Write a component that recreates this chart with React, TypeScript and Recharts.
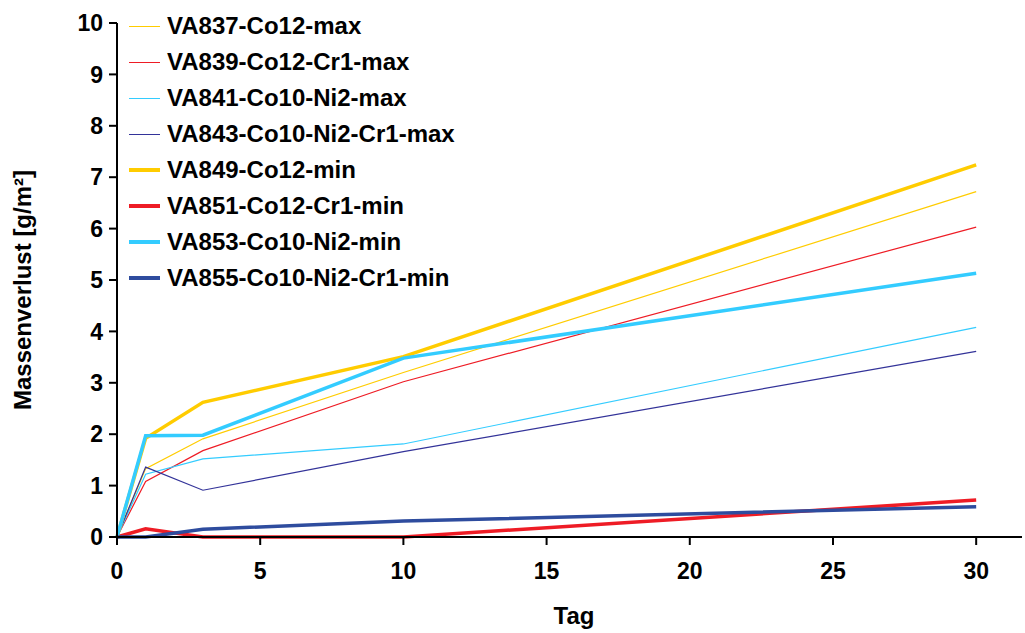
import React from "react";
import { LineChart, Line, XAxis, YAxis } from "recharts";

const days = [0, 1, 3, 10, 30];

const va837 = [0, 1.33, 1.91, 3.2, 6.72];
const va839 = [0, 1.08, 1.68, 3.02, 6.03];
const va841 = [0, 1.22, 1.52, 1.81, 4.08];
const va843 = [0, 1.36, 0.91, 1.66, 3.61];
const va849 = [0, 1.92, 2.62, 3.51, 7.24];
const va851 = [0, 0.16, 0, 0, 0.72];
const va853 = [0, 1.97, 1.98, 3.48, 5.13];
const va855 = [0, 0, 0.15, 0.31, 0.59];

const xTicks = [0, 5, 10, 15, 20, 25, 30];
const yTicks = [0, 1, 2, 3, 4, 5, 6, 7, 8, 9, 10];

const series = [
  { key: "VA837-Co12-max", values: va837, color: "#FFCC00", width: 1.2 },
  { key: "VA839-Co12-Cr1-max", values: va839, color: "#EE1C25", width: 1.2 },
  { key: "VA841-Co10-Ni2-max", values: va841, color: "#33CCFF", width: 1.2 },
  { key: "VA843-Co10-Ni2-Cr1-max", values: va843, color: "#333399", width: 1.2 },
  { key: "VA849-Co12-min", values: va849, color: "#FFCC00", width: 3.5 },
  { key: "VA851-Co12-Cr1-min", values: va851, color: "#EE1C25", width: 3.5 },
  { key: "VA853-Co10-Ni2-min", values: va853, color: "#33CCFF", width: 3.5 },
  { key: "VA855-Co10-Ni2-Cr1-min", values: va855, color: "#2E4C9E", width: 3.5 },
];

const data = days.map((d, i) => {
  const row: Record<string, number> = { day: d };
  series.forEach((s) => (row[s.key] = s.values[i]));
  return row;
});

const font = "'Liberation Sans', Arial, sans-serif";
const tickStyle = { fill: "#000", fontSize: 23, fontWeight: 700, fontFamily: font };
const titleStyle = { fill: "#000", fontSize: 24, fontWeight: 700, fontFamily: font };

// legend sits inside the plot area, top left
function LegendBox() {
  return (
    <div style={{ position: "absolute", left: 129, top: 8, fontFamily: font, fontWeight: 700, fontSize: 24 }}>
      {series.map((s) => (
        <div key={s.key} style={{ display: "flex", alignItems: "center", height: 36 }}>
          <div style={{ width: 31, height: s.width > 2 ? 4 : 1, background: s.color, marginRight: 7 }} />
          <span>{s.key}</span>
        </div>
      ))}
    </div>
  );
}

export default function App() {
  return (
    <div style={{ position: "absolute", left: 0, top: 0, width: 1025, height: 633, background: "#fff" }}>
      <LineChart width={1025} height={633} data={data} margin={{ top: 23, right: 3, bottom: 0, left: 0 }}>
        <XAxis
          dataKey="day"
          type="number"
          domain={[0, 31.6]}
          ticks={xTicks}
          tick={tickStyle}
          tickSize={8}
          tickMargin={18}
          height={96}
          stroke="#000"
          strokeWidth={2}
          label={{
            content: () => (
              <text x={574} y={624} textAnchor="middle" {...titleStyle}>Tag</text>
            ),
          }}
        />
        <YAxis
          type="number"
          domain={[0, 10]}
          ticks={yTicks}
          tick={tickStyle}
          tickSize={8}
          tickMargin={6}
          width={117}
          stroke="#000"
          strokeWidth={2}
          label={{
            content: () => (
              <text transform="translate(31,290) rotate(-90)" textAnchor="middle" {...titleStyle}>
                Massenverlust [g/m²]
              </text>
            ),
          }}
        />
        {series.map((s) => (
          <Line
            key={s.key}
            type="linear"
            dataKey={s.key}
            stroke={s.color}
            strokeWidth={s.width}
            dot={false}
            isAnimationActive={false}
          />
        ))}
      </LineChart>
      <LegendBox />
    </div>
  );
}
